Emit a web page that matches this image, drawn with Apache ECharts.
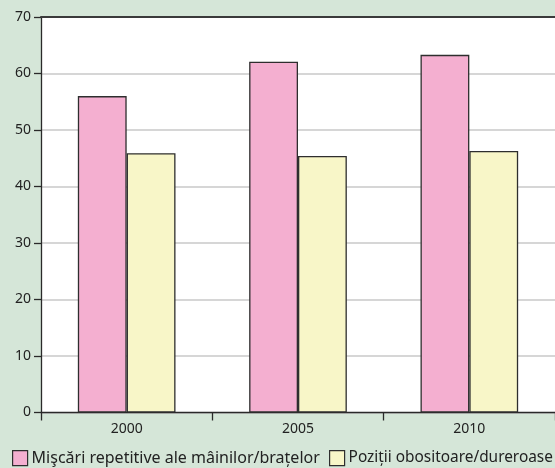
<!DOCTYPE html>
<html><head><meta charset="utf-8">
<script src="https://cdn.jsdelivr.net/npm/echarts@6/dist/echarts.min.js"></script>
<style>html,body{margin:0;padding:0;background:#d5e6d8;}#c{width:555px;height:468px;}</style>
</head><body><div id="c"></div>
<script>
const categories = ['2000', '2005', '2010'];
const seriesNames = ['Mişcări repetitive ale mâinilor/brațelor', 'Poziții obositoare/dureroase'];
const repetitive = [56.0, 62.1, 63.3];
const tiring = [45.9, 45.4, 46.3];
const yTicks = [0, 10, 20, 30, 40, 50, 60, 70];

const chart = echarts.init(document.getElementById('c'), null, {renderer: 'canvas'});
const font = '"Noto Sans", "Open Sans", sans-serif';
const border = {borderColor: '#2e2e2e', borderWidth: 1.3};
function legendFor(name, left, size) {
  return {data: [name], left: left, top: 450, padding: 0, itemWidth: 15, itemHeight: 15, itemGap: 6, icon: 'rect',
    textStyle: {fontSize: size, color: '#222', fontFamily: font, padding: [0, 0, 0, -1]},
    itemStyle: {borderColor: '#2e2e2e', borderWidth: 1.2}};
}
chart.setOption({
  backgroundColor: '#d5e6d8',
  animation: false,
  textStyle: {fontFamily: font},
  grid: {left: 41, right: 0, top: 17, bottom: 55.5, show: true, backgroundColor: '#ffffff', borderWidth: 0},
  legend: [
    legendFor(seriesNames[0], 12, 16),
    legendFor(seriesNames[1], 329, 15.4)
  ],
  xAxis: [
    {type: 'category', data: categories, position: 'bottom',
     axisLine: {lineStyle: {color: '#2a2a2a', width: 1.3}},
     axisTick: {show: true, length: 8, lineStyle: {color: '#2a2a2a', width: 1.3}},
     axisLabel: {fontSize: 14, color: '#222', margin: 10, fontFamily: font}},
    {type: 'category', data: categories, position: 'top',
     axisLine: {show: true, lineStyle: {color: '#3a3a3a', width: 2}},
     axisTick: {show: false}, axisLabel: {show: false}}
  ],
  yAxis: {
    type: 'value', min: yTicks[0], max: yTicks[yTicks.length - 1], interval: 10,
    axisLine: {show: true, lineStyle: {color: '#2a2a2a', width: 1.3}},
    axisTick: {show: true, length: 7, lineStyle: {color: '#2a2a2a', width: 1.3}},
    axisLabel: {fontSize: 14, color: '#222', margin: 10, fontFamily: font},
    splitLine: {show: true, lineStyle: {color: '#c8c8c8', width: 1.5}}
  },
  series: [
    {name: seriesNames[0], type: 'bar', data: repetitive, barWidth: '28.5%', barGap: '0%',
     itemStyle: Object.assign({color: '#f4afd0'}, border)},
    {name: seriesNames[1], type: 'bar', data: tiring, barWidth: '28.5%', barGap: '0%',
     itemStyle: Object.assign({color: '#f8f6c8'}, border)}
  ]
});
</script></body></html>
